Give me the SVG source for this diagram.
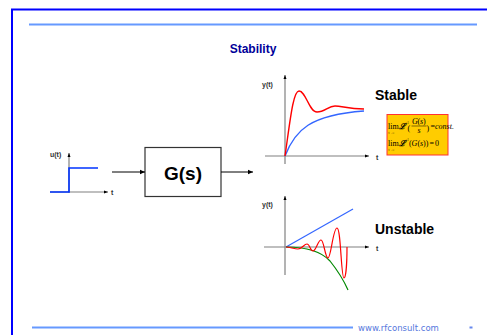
<svg xmlns="http://www.w3.org/2000/svg" width="487" height="335" viewBox="0 0 487 335">
<style>
.axis{stroke:#808080;stroke-width:1.2;fill:none}
.conn{stroke:#000;stroke-width:1;fill:none}
.lbl{font-family:"Liberation Sans",Arial,sans-serif;font-weight:bold;font-size:7px;fill:#333}
.big{font-family:"Liberation Sans",Arial,sans-serif;font-weight:bold;font-size:14px;fill:#000}
.math{font-family:"Liberation Serif","Times New Roman",serif;font-size:8px;fill:#000}
.sub{font-family:"Liberation Serif","Times New Roman",serif;font-size:3px;fill:#000}
</style>
<defs>
<marker id="ah" markerWidth="6" markerHeight="6" refX="5" refY="3" orient="auto" markerUnits="userSpaceOnUse">
<path d="M0,0.8 L5,3 L0,5.2 z" fill="#000"/>
</marker>
<marker id="ahs" markerWidth="5" markerHeight="4" refX="4" refY="2" orient="auto" markerUnits="userSpaceOnUse">
<path d="M0,0.5 L4,2 L0,3.5 z" fill="#000"/>
</marker>
</defs>
<rect width="487" height="335" fill="#fff"/>
<g id="frame">
<path d="M12,335 V9.5 H487" stroke="#0000ff" stroke-width="2" fill="none"/>
<line x1="29" y1="24.5" x2="477" y2="24.5" stroke="#6699ff" stroke-width="2"/>
<line x1="32" y1="327.5" x2="353" y2="327.5" stroke="#6699ff" stroke-width="2"/>
<text x="358" y="331" font-family="Verdana,'DejaVu Sans',sans-serif" font-size="8.5" fill="#5577dd">www.rfconsult.com</text>
<rect x="469.5" y="326.5" width="3" height="2" fill="#6688ee"/>
</g>
<g id="title">
<text x="253" y="53" text-anchor="middle" font-family="Liberation Sans,Arial,sans-serif" font-weight="bold" font-size="12" fill="#000099">Stability</text>
</g>
<g id="input">
<line class="axis" x1="50" y1="192" x2="108" y2="192" marker-end="url(#ahs)"/>
<line class="axis" x1="69" y1="193" x2="69" y2="153" marker-end="url(#ahs)"/>
<path d="M50,192 H69 V168 H98" stroke="#0033ff" stroke-width="1.6" fill="none"/>
<text class="lbl" x="50" y="157">u(t)</text>
<text class="lbl" x="111" y="195">t</text>
</g>
<g id="block">
<rect x="145" y="147.5" width="76" height="49" fill="#fff" stroke="#333" stroke-width="1.2"/>
<text x="183" y="180" text-anchor="middle" font-family="Liberation Sans,Arial,sans-serif" font-weight="bold" font-size="19" fill="#000">G(s)</text>
</g>
<g id="connectors">
<line class="conn" x1="112" y1="172" x2="145" y2="172" marker-end="url(#ah)"/>
<line class="conn" x1="221" y1="172" x2="253" y2="172" marker-end="url(#ah)"/>
</g>
<g id="stable-plot">
<line class="axis" x1="265" y1="156" x2="369" y2="156" marker-end="url(#ahs)"/>
<line class="axis" x1="285" y1="164" x2="285" y2="75" marker-end="url(#ahs)"/>
<path d="M285,156 C295,130 310,115 364,111" stroke="#3366ff" stroke-width="1.4" fill="none"/>
<path d="M285,156 C290,122 293,91 299,91 C306,91 309,112 317,112 C325,112 328,106 335,106 C342,106 348,109 364,109" stroke="#ff0000" stroke-width="1.4" fill="none"/>
<text class="lbl" x="262" y="87">y(t)</text>
<text class="lbl" x="376" y="160">t</text>
<text class="big" x="375" y="100">Stable</text>
</g>
<g id="formula">
<rect x="387" y="114.5" width="61" height="40.5" fill="#ffcc00" stroke="#ff3333" stroke-width="1"/>
<text class="math" x="388" y="129" font-size="7.5">lim</text>
<text class="sub" x="388.5" y="133.5">t→∞</text>
<text class="math" x="398.5" y="129" font-weight="bold" font-style="italic">ℒ</text>
<text class="sub" x="405.5" y="124">−1</text>
<text class="math" x="407.5" y="131" font-size="13">(</text>
<text class="math" x="412" y="123.5" font-style="italic">G</text>
<text class="math" x="417.5" y="123.5">(</text>
<text class="math" x="420" y="123.5" font-style="italic">s</text>
<text class="math" x="423" y="123.5">)</text>
<line x1="411.5" y1="126" x2="426.5" y2="126" stroke="#000" stroke-width="0.5"/>
<text class="math" x="417.5" y="133" font-style="italic">s</text>
<text class="math" x="426.5" y="131" font-size="13">)</text>
<text class="math" x="430.5" y="129">=</text>
<text class="math" x="435" y="129" font-style="italic" font-size="7">const.</text>
<text class="math" x="388" y="146" font-size="7.5">lim</text>
<text class="sub" x="388.5" y="150.5">t→∞</text>
<text class="math" x="398.5" y="146" font-weight="bold" font-style="italic">ℒ</text>
<text class="sub" x="405.5" y="140.5">−1</text>
<text class="math" x="409" y="146">(</text>
<text class="math" x="411.5" y="146" font-style="italic">G</text>
<text class="math" x="417.5" y="146">(</text>
<text class="math" x="420" y="146" font-style="italic">s</text>
<text class="math" x="423" y="146">))</text>
<text class="math" x="429.5" y="146">=</text>
<text class="math" x="435" y="146">0</text>
</g>
<g id="unstable-plot">
<line class="axis" x1="264" y1="247" x2="369" y2="247" marker-end="url(#ahs)"/>
<line class="axis" x1="285" y1="275" x2="285" y2="196" marker-end="url(#ahs)"/>
<line x1="286" y1="247" x2="353" y2="209" stroke="#3366ff" stroke-width="1.2"/>
<path d="M286,247 C305,247 320,250 330,261 C338,271 344,281 348,290" stroke="#008800" stroke-width="1.2" fill="none"/>
<path d="M286,247 C290,247 294,249 298,249 C302,249 304,244 307,244 C310,244 310,251 313,251 C316,251 318,240 321,240 C324,240 325,258 328,258 C331,258 333,228 337,228 C341,228 341,278 344,278 C346,278 347,262 347,247" stroke="#ff0000" stroke-width="1.2" fill="none"/>
<text class="lbl" x="262" y="207">y(t)</text>
<text class="lbl" x="376" y="251">t</text>
<text class="big" x="375" y="234">Unstable</text>
</g>
</svg>
